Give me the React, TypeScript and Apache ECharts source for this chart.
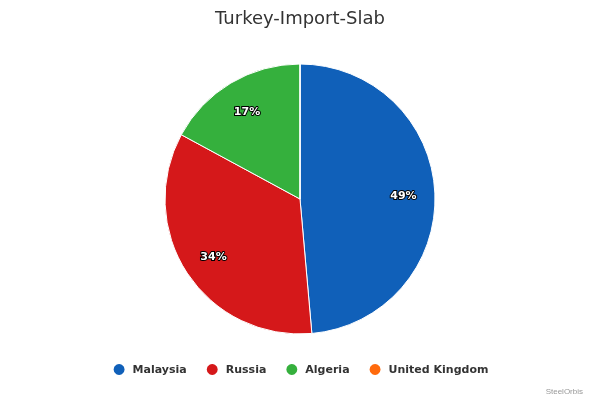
import React, { useEffect, useRef } from "react";
import * as echarts from "echarts";

const categories = ["Malaysia", "Russia", "Algeria", "United Kingdom"];
const values = [48.6, 34.3, 17.1, 0];
const colors = ["#1060b9", "#d5181a", "#35b03d", "#ff6a0d"];
const titleText = "Turkey-Import-Slab";
const creditText = "SteelOrbis";

export default function App() {
  const ref = useRef<HTMLDivElement>(null);
  useEffect(() => {
    if (!ref.current) return;
    const chart = echarts.init(ref.current, null, { renderer: "svg" });
    const data = categories.map((name, i) => ({
      name,
      value: values[i],
      itemStyle: { color: colors[i] },
    }));
    const total = values.reduce((a, b) => a + b, 0);
    chart.setOption({
      animation: false,
      title: {
        text: titleText,
        left: "center",
        top: 3,
        textStyle: {
          fontFamily: "DejaVu Sans",
          fontSize: 18,
          fontWeight: "normal",
          color: "#333333",
        },
      },
      legend: {
        bottom: 18,
        left: "center",
        icon: "circle",
        itemWidth: 17,
        itemHeight: 13,
        itemGap: 18,
        data: categories.map((name, i) => ({ name, itemStyle: { color: colors[i] } })),
        textStyle: {
          fontFamily: "DejaVu Sans",
          fontSize: 11,
          fontWeight: "bold",
          color: "#333333",
        },
      },
      graphic: [
        {
          type: "text",
          right: 17,
          bottom: 5,
          style: {
            text: creditText,
            fontFamily: "Liberation Sans",
            fontSize: 8,
            fill: "#999999",
          },
        },
      ],
      series: [
        {
          type: "pie",
          center: [300, 199],
          radius: [0, 135],
          startAngle: 90,
          clockwise: true,
          silent: true,
          itemStyle: { borderColor: "#ffffff", borderWidth: 1 },
          label: { show: false },
          labelLine: { show: false },
          data,
        },
        {
          type: "pie",
          center: [300, 200],
          radius: [66, 135],
          startAngle: 90,
          clockwise: true,
          silent: true,
          itemStyle: { color: "transparent", borderWidth: 0 },
          label: {
            show: true,
            position: "inside",
            formatter: (p: any) => {
              const pct = (p.value / total) * 100;
              return pct < 0.5 ? "" : Math.round(pct) + "%";
            },
            fontFamily: "DejaVu Sans",
            fontSize: 11,
            fontWeight: "bold",
            color: "#ffffff",
            textBorderColor: "#000000",
            textBorderWidth: 2,
          },
          labelLine: { show: false },
          data: categories.map((name, i) => ({
            name,
            value: values[i],
            itemStyle: { color: "transparent" },
          })),
        },
      ],
    });
    return () => chart.dispose();
  }, []);
  return (
    <div
      ref={ref}
      style={{ position: "fixed", left: 0, top: 0, width: 600, height: 400 }}
    />
  );
}
